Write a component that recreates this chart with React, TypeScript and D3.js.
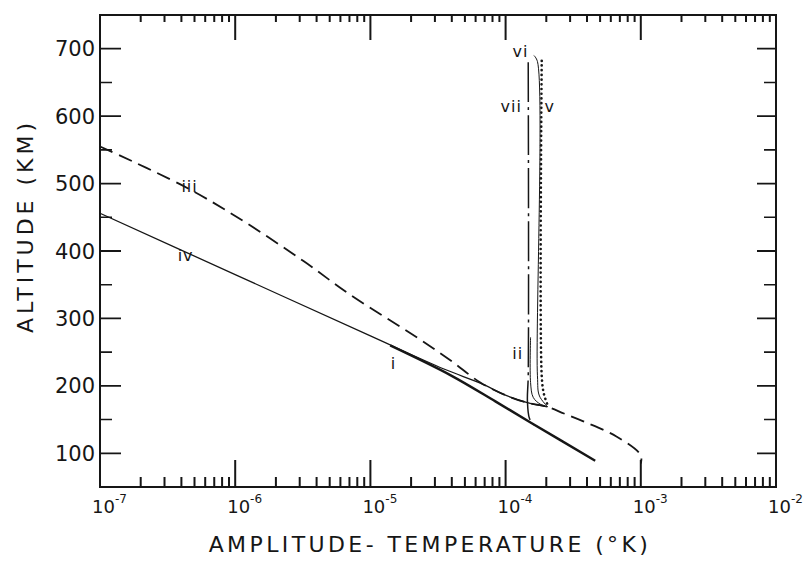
import React from "react";
import * as d3 from "d3";

// curves: [amplitude (°K), altitude (km)]
const curveI = [
  [1.4e-5, 260],
  [3.9e-5, 216],
  [8.4e-5, 177],
  [1.55e-4, 145],
  [4.6e-4, 89],
];
const curveII = [
  [1.53e-4, 272],
  [1.53e-4, 205],
  [1.6e-4, 183],
  [1.8e-4, 173],
  [2.05e-4, 169],
];
const curveIII = [
  [1e-7, 555],
  [4e-7, 498],
  [1e-6, 452],
  [3.2e-6, 385],
  [7.1e-6, 335],
  [2.2e-5, 272],
  [3.9e-5, 238],
  [6.5e-5, 205],
  [1.03e-4, 185],
  [1.45e-4, 175],
  [2.03e-4, 169],
  [2.7e-4, 159],
  [3.8e-4, 147],
  [6.6e-4, 125],
  [1e-3, 97],
  [1e-3, 85],
];
const curveIV = [
  [1e-7, 456],
  [1e-6, 365],
  [1e-5, 274],
  [3.5e-5, 225],
  [6.5e-5, 204],
  [1.03e-4, 185],
  [1.45e-4, 175],
  [2.03e-4, 169],
];
const curveV = [
  [1.85e-4, 682],
  [1.85e-4, 215],
  [1.92e-4, 188],
  [2.05e-4, 171],
];
const curveVI = [
  [1.62e-4, 690],
  [1.72e-4, 681],
  [1.72e-4, 215],
  [1.78e-4, 185],
  [2.05e-4, 169],
];
const curveVII = [
  [1.47e-4, 680],
  [1.47e-4, 215],
  [1.45e-4, 178],
  [1.5e-4, 152],
  [1.62e-4, 142],
];

// curve labels: [text, amplitude, altitude]
const curveLabels = [
  ["i", 1.48e-5, 225],
  ["ii", 1.23e-4, 240],
  ["iii", 4.6e-7, 488],
  ["iv", 4.3e-7, 385],
  ["v", 2.12e-4, 606],
  ["vi", 1.29e-4, 687],
  ["vii", 1.1e-4, 606],
];

const decades = [-7, -6, -5, -4, -3, -2];
const altMajor = [100, 200, 300, 400, 500, 600, 700];
const altMinor = [150, 250, 350, 450, 550, 650];

const W = 803;
const H = 570;
const left = 100;
const right = 776;
const top = 15;
const bottom = 487;

const x = d3.scaleLog().domain([1e-7, 1e-2]).range([left, right]);
const y = d3.scaleLinear().domain([50, 750]).range([bottom, top]);

const lineGen = d3
  .line<number[]>()
  .x((d) => x(d[0]))
  .y((d) => y(d[1]))
  .curve(d3.curveCatmullRom.alpha(0.5));

const ink = "#161616";
const font = "'DejaVu Sans', sans-serif";

export default function App() {
  const minorX: number[] = [];
  decades.slice(0, -1).forEach((d) => {
    for (let k = 2; k <= 9; k++) minorX.push(k * Math.pow(10, d));
  });
  const innerDecades = decades.slice(1, -1).map((d) => Math.pow(10, d));

  return (
    <svg
      width={W}
      height={H}
      style={{ position: "absolute", left: 0, top: 0, background: "#fff" }}
    >
      {/* frame */}
      <rect
        x={left}
        y={top}
        width={right - left}
        height={bottom - top}
        fill="none"
        stroke={ink}
        strokeWidth={2}
      />

      {/* x ticks */}
      {minorX.map((v, i) => (
        <path
          key={"mx" + i}
          d={`M${x(v)},${bottom}V${bottom - 10}M${x(v)},${top}V${top + 7}`}
          stroke={ink}
          strokeWidth={2}
          fill="none"
        />
      ))}
      {innerDecades.map((v, i) => (
        <path
          key={"Mx" + i}
          d={`M${x(v)},${bottom}V${bottom - 27}M${x(v)},${top}V${top + 25}`}
          stroke={ink}
          strokeWidth={2}
          fill="none"
        />
      ))}
      {decades.map((d) => (
        <text
          key={"lx" + d}
          x={x(Math.pow(10, d)) - 8}
          y={513}
          fontFamily={font}
          fontSize={18}
          fill={ink}
        >
          10
          <tspan fontSize={12} dy={-10}>
            {d}
          </tspan>
        </text>
      ))}

      {/* y ticks */}
      {altMajor.map((a) => (
        <path
          key={"My" + a}
          d={`M${left},${y(a)}H${left + 21}M${right},${y(a)}H${right - 19}`}
          stroke={ink}
          strokeWidth={1.8}
          fill="none"
        />
      ))}
      {altMinor.map((a) => (
        <path
          key={"my" + a}
          d={`M${left},${y(a)}H${left + 12}M${right},${y(a)}H${right - 12}`}
          stroke={ink}
          strokeWidth={1.6}
          fill="none"
        />
      ))}
      {altMajor.map((a) => (
        <text
          key={"ly" + a}
          x={left - 5}
          y={y(a) + 7.5}
          textAnchor="end"
          fontFamily={font}
          fontSize={21}
          fill={ink}
        >
          {a}
        </text>
      ))}

      {/* curves */}
      <path d={lineGen(curveIV) || ""} fill="none" stroke={ink} strokeWidth={1.3} />
      <path
        d={lineGen(curveIII) || ""}
        fill="none"
        stroke={ink}
        strokeWidth={1.8}
        strokeDasharray="14,7"
      />
      <path d={lineGen(curveI) || ""} fill="none" stroke={ink} strokeWidth={2.4} />
      <path d={lineGen(curveII) || ""} fill="none" stroke={ink} strokeWidth={1} />
      <path d={lineGen(curveVI) || ""} fill="none" stroke={ink} strokeWidth={1} />
      <path
        d={lineGen(curveVII) || ""}
        fill="none"
        stroke={ink}
        strokeWidth={1.5}
        strokeDasharray="40,5,3,5"
      />
      <path
        d={lineGen(curveV) || ""}
        fill="none"
        stroke={ink}
        strokeWidth={2.6}
        strokeDasharray="0.1,4.6"
        strokeLinecap="round"
      />

      {curveLabels.map(([t, v, a]) => (
        <text
          key={"c" + t}
          x={x(v as number)}
          y={y(a as number)}
          textAnchor="middle"
          fontFamily={font}
          fontSize={16}
          letterSpacing={1}
          fill={ink}
        >
          {t}
        </text>
      ))}

      {/* axis titles */}
      <text
        transform="translate(33,226) rotate(-90)"
        textAnchor="middle"
        fontFamily={font}
        fontSize={22}
        letterSpacing={4}
        fill={ink}
      >
        ALTITUDE (KM)
      </text>
      <text
        x={430}
        y={552}
        textAnchor="middle"
        fontFamily={font}
        fontSize={22}
        letterSpacing={3.4}
        fill={ink}
      >
        AMPLITUDE- TEMPERATURE (°K)
      </text>
    </svg>
  );
}
